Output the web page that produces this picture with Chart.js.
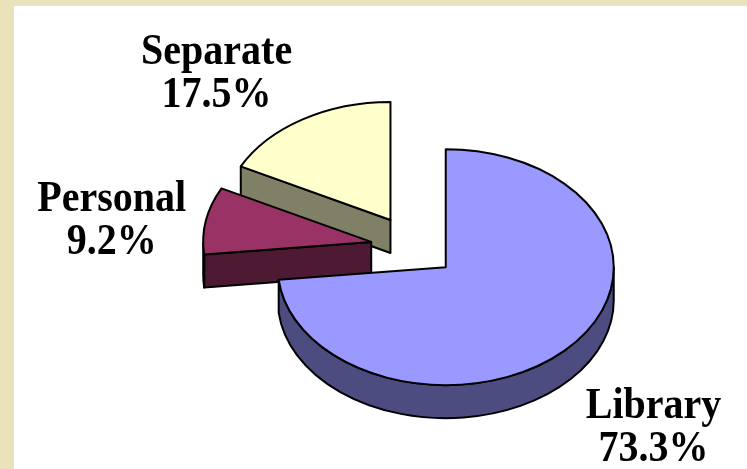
<!DOCTYPE html>
<html>
<head>
<meta charset="utf-8">
<title>Storage share</title>
<script src="https://cdn.jsdelivr.net/npm/chart.js"></script>
<style>
  html, body { margin: 0; padding: 0; background: #e9e2ba; }
  #wrap { position: absolute; left: 14px; top: 6px; width: 733px; height: 463px; background: #fff; }
</style>
</head>
<body>
<div id="wrap"><canvas id="pieChart"></canvas></div>
<script>
const categories = ['Library', 'Personal', 'Separate'];
const shares = [73.3, 9.2, 17.5];
const topColors = ['#9999ff', '#993366', '#ffffcc'];
const sideColors = ['#4c4c80', '#4d1933', '#808066'];

// fake 3D: squash the pie into an ellipse and give every slice a side wall
const pie3d = {
  id: 'pie3d',
  beforeDatasetsDraw(chart, args, opts) {
    const ctx = chart.ctx;
    const ds = chart.data.datasets[0];
    const arcs = chart.getDatasetMeta(0).data;
    const k = opts.tilt, depth = opts.depth;

    const slices = arcs.map((arc, i) => {
      const p = arc.getProps(['x', 'y', 'startAngle', 'endAngle', 'outerRadius'], true);
      const mid = (p.startAngle + p.endAngle) / 2;
      const off = ds.offset[i] || 0;
      return {
        i, s: p.startAngle, e: p.endAngle, r: p.outerRadius, mid,
        cx: p.x + Math.cos(mid) * off,
        cy: p.y + Math.sin(mid) * off * k
      };
    });
    // back to front
    const order = slices.slice().sort((a, b) => Math.sin(a.mid) - Math.sin(b.mid));

    ctx.save();
    ctx.lineWidth = opts.lineWidth;
    ctx.strokeStyle = '#000';
    ctx.lineJoin = 'round';

    const pt = (sl, a) => [sl.cx + Math.cos(a) * sl.r, sl.cy + Math.sin(a) * sl.r * k];
    const face = (sl, a) => {
      const [x, y] = pt(sl, a);
      ctx.beginPath();
      ctx.moveTo(sl.cx, sl.cy);
      ctx.lineTo(x, y);
      ctx.lineTo(x, y + depth);
      ctx.lineTo(sl.cx, sl.cy + depth);
      ctx.closePath();
      ctx.fill();
      ctx.stroke();
    };

    order.forEach(sl => {
      ctx.fillStyle = sideColors[sl.i];
      if (Math.cos(sl.s) < -1e-6) face(sl, sl.s);
      if (Math.cos(sl.e) > 1e-6) face(sl, sl.e);
      const a0 = Math.max(sl.s, 0), a1 = Math.min(sl.e, Math.PI);
      if (a1 > a0) {
        ctx.beginPath();
        ctx.ellipse(sl.cx, sl.cy, sl.r, sl.r * k, 0, a0, a1, false);
        ctx.ellipse(sl.cx, sl.cy + depth, sl.r, sl.r * k, 0, a1, a0, true);
        ctx.closePath();
        ctx.fill();
        ctx.stroke();
      }
      ctx.fillStyle = ds.backgroundColor[sl.i];
      ctx.beginPath();
      ctx.moveTo(sl.cx, sl.cy);
      ctx.ellipse(sl.cx, sl.cy, sl.r, sl.r * k, 0, sl.s, sl.e, false);
      ctx.closePath();
      ctx.fill();
      ctx.stroke();
    });

    // labels outside each slice, text a little taller than wide like the original
    const size = 40, stretch = 1.1, lh = 43;
    const capH = size * 0.662 * stretch;
    ctx.font = 'bold ' + size + 'px "Liberation Serif", "Times New Roman", serif';
    ctx.fillStyle = '#000';
    ctx.textAlign = 'center';
    ctx.textBaseline = 'alphabetic';
    slices.forEach(sl => {
      const lines = [categories[sl.i], shares[sl.i].toFixed(1) + '%'];
      const w = Math.max(...lines.map(t => ctx.measureText(t).width));
      const h = capH + lh * (lines.length - 1);
      const c = Math.cos(sl.mid), sn = Math.sin(sl.mid);
      const ax = sl.cx + c * sl.r * 1.12;
      const ay = sl.cy + sn * sl.r * k * 1.12 + (sn > 0 ? depth : 0);
      const left = c > 0 ? ax : ax - w;
      const top = sn > 0.5 ? ay : (sn < -0.5 ? ay - h : ay - h / 2);
      lines.forEach((t, j) => {
        ctx.save();
        ctx.translate(left + w / 2, top + capH + lh * j);
        ctx.scale(1, stretch);
        ctx.fillText(t, 0, 0);
        ctx.restore();
      });
    });
    ctx.restore();
    return false;
  }
};

new Chart(document.getElementById('pieChart'), {
  type: 'pie',
  data: {
    labels: categories,
    datasets: [{
      data: shares,
      backgroundColor: topColors,
      borderColor: '#000',
      borderWidth: 2,
      offset: [42, 44, 46]
    }]
  },
  options: {
    responsive: true,
    maintainAspectRatio: false,
    animation: false,
    events: [],
    radius: 168,
    layout: { padding: { left: 68, top: 20 } },
    plugins: {
      legend: { display: false },
      tooltip: { enabled: false },
      pie3d: { tilt: 0.702, depth: 33, lineWidth: 2 }
    }
  },
  plugins: [pie3d]
});
</script>
</body>
</html>
